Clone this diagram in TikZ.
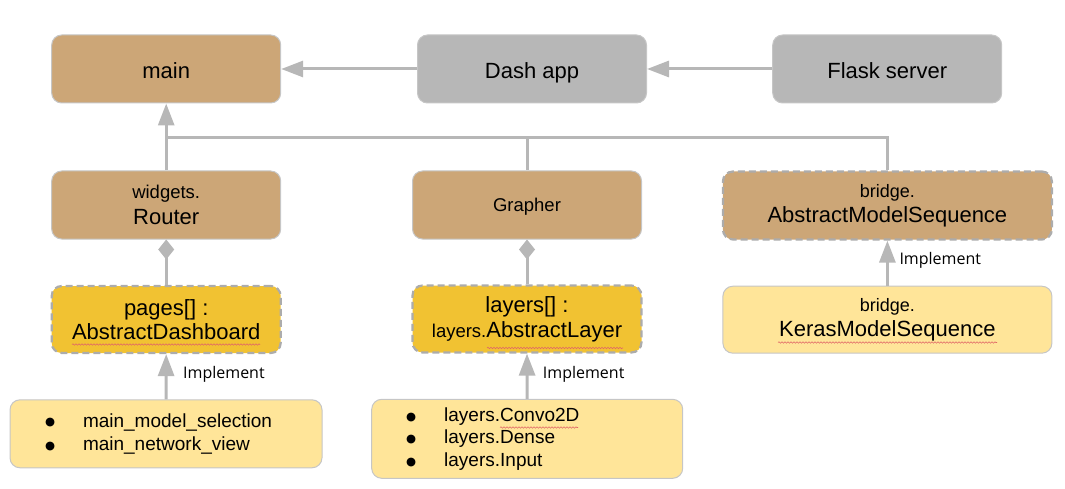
\documentclass[tikz,border=0pt]{standalone}
\usepackage{fontspec}
\setmainfont{Liberation Sans}
\newfontfamily\osans{Open Sans}
\newfontfamily\djv{DejaVu Sans}
\usetikzlibrary{arrows.meta,decorations.pathmorphing}
\definecolor{brownfill}{HTML}{CCA677}
\definecolor{grayfill}{HTML}{B7B7B7}
\definecolor{goldfill}{HTML}{F1C232}
\definecolor{lightfill}{HTML}{FFE599}
\definecolor{edgegray}{HTML}{C6C6C6}
\definecolor{dashgray}{HTML}{ACACAC}
\definecolor{linegray}{HTML}{B7B7B7}
\definecolor{squig}{HTML}{E06666}
\newcommand\fbig{\fontsize{22}{26}\selectfont}
\newcommand\fsml{\fontsize{18.5}{26}\selectfont}
\newcommand\bul{\makebox[38pt][l]{\raisebox{1.2pt}{\djv\fontsize{11.5}{14}\selectfont ●}}}
\tikzset{
  box/.style={rounded corners=10pt, draw=edgegray, line width=1pt, align=center, inner sep=0pt},
  solidbox/.style={box},
  dashbox/.style={box, draw=dashgray, line width=2.2pt, dash pattern=on 7pt off 4pt},
  brownnode/.style={fill=brownfill},
  graynode/.style={fill=grayfill},
  goldnode/.style={fill=goldfill},
  lightnode/.style={fill=lightfill},
  stdsize/.style={minimum width=229pt, minimum height=68pt},
  twoline/.style={font=\fontsize{22}{#1}\selectfont},
  listfont/.style={font=\fontsize{19}{#1}\selectfont},
  conn/.style={draw=linegray, line width=3pt},
  arr/.style={-{Triangle[length=22pt,width=16pt]}},
  diam/.style={{Diamond[length=20pt,width=16pt]}-},
  impl/.style={font=\osans\fontsize{16}{19}\selectfont, inner sep=0pt, anchor=base west},
  squiggle/.style={draw=squig, line width=0.6pt, decorate, decoration={snake, amplitude=0.7pt, segment length=3pt}}
}
\begin{document}
\begin{tikzpicture}[x=1pt, y=-1pt]
\useasboundingbox (0,0) rectangle (1065,489);

% top row
\node[solidbox, brownnode, stdsize, text height=18.6pt, text depth=0pt] (main) at (166.2,69) {\fbig main};
\node[solidbox, graynode, stdsize, text height=18.6pt, text depth=0pt] (dash) at (532,69) {\fbig Dash app};
\node[solidbox, graynode, stdsize, text height=18.6pt, text depth=0pt] (flask) at (887.2,69) {\fbig Flask server};

% second row
\node[solidbox, brownnode, stdsize, twoline=26] (router) at (166.2,205) {{\fsml widgets.}\\Router};
\node[solidbox, brownnode, stdsize, text height=13.4pt, text depth=0pt] (grapher) at (527,205) {\fsml Grapher};
\node[dashbox, brownnode, minimum width=329pt, minimum height=68pt, twoline=25] (absseq) at (887.4,205.5) {{\fontsize{18}{25}\selectfont bridge.}\\AbstractModelSequence};

% third row
\node[dashbox, goldnode, stdsize, minimum height=67pt, twoline=23.5] (pages) at (166.2,319.5) {pages[] :\\AbstractDashboard};
\node[dashbox, goldnode, stdsize, minimum height=67pt, twoline=25] (layers) at (527,319) {layers[] :\\{\fsml layers.}AbstractLayer};
\node[solidbox, lightnode, minimum width=329pt, minimum height=67pt, twoline=25] (keras) at (887.4,319.7) {{\fontsize{18}{25}\selectfont bridge.}\\KerasModelSequence};

% bottom row
\node[solidbox, lightnode, minimum width=312pt, minimum height=68pt, text width=242pt, align=left, listfont=23.4] (dashimpl) at (166,433.8)
  {\bul main\_model\_selection\\\bul main\_network\_view};
\node[solidbox, lightnode, minimum width=311pt, minimum height=79pt, text width=242pt, align=left, listfont=22.5] (layerimpl) at (527.2,438.8)
  {\bul layers.Convo2D\\\bul layers.Dense\\\bul layers.Input};

% connectors
\coordinate (jl) at ([yshift=-34.5pt]main.south);
\coordinate (jr) at (absseq.north |- jl);
\draw[conn, arr] (dash.west) -- (main.east);
\draw[conn, arr] (flask.west) -- (dash.east);
\draw[conn, arr] (router.north) -- (main.south);
\draw[conn] (jl) -- (jr) -- (absseq.north);
\draw[conn] (grapher.north |- jl) -- (grapher.north);
\draw[conn, diam] (router.south) -- (pages.north);
\draw[conn, diam] (grapher.south) -- (layers.north);
\draw[conn, arr] (dashimpl.north) -- (pages.south);
\draw[conn, arr] (layerimpl.north) -- (layers.south);
\draw[conn, arr] (keras.north) -- (absseq.south);

% labels
\node[impl] (impl1) at (183,378) {Implement};
\node[impl] (impl2) at (542.7,378) {Implement};
\node[impl] (impl3) at (899.3,264) {Implement};

% spell-check marks
\draw[squiggle] (72,344.5) -- (260,344.5);
\draw[squiggle] (487,348) -- (623,348);
\draw[squiggle] (500,427.5) -- (578,427.5);
\draw[squiggle] (778,342.5) -- (997,342.5);
\end{tikzpicture}
\end{document}
